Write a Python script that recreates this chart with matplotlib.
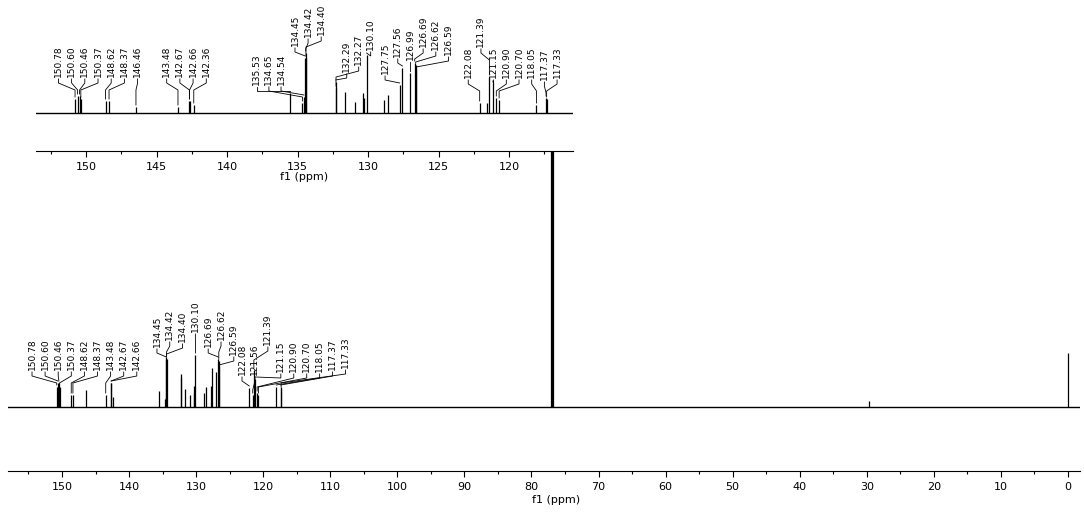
import numpy as np
import matplotlib.pyplot as plt
from matplotlib.ticker import MultipleLocator

plt.rcParams['font.family'] = ['DejaVu Sans']

# peak positions (ppm) shared by the full spectrum and the expanded inset
peak_ppm = [150.78, 150.60, 150.46, 150.37, 148.62, 148.37, 146.46, 143.48, 142.67, 142.66, 142.36,
            135.53, 134.65, 134.54, 134.45, 134.42, 134.40, 132.29, 132.27, 131.63, 130.92, 130.38,
            130.26, 130.10, 128.87, 128.56, 127.75, 127.56, 126.99, 126.69, 126.62, 126.59,
            122.08, 121.56, 121.39, 121.15, 120.90, 120.70, 118.05, 117.37, 117.33,
            77.16, 77.00, 76.84, 29.70, 0.00]
# peak heights in the full spectrum
main_height = [20, 24, 24, 20, 12, 12, 17, 12, 24, 24, 10,
               16, 8, 10, 48, 50, 48, 33, 30, 18, 12, 21,
               14, 52, 14, 20, 21, 39, 35, 48, 46, 40,
               19, 12, 37, 28, 14, 12, 20, 20, 18,
               600, 600, 600, 6, 54]
# peak heights in the inset (aromatic region expanded)
inset_height = [14, 17, 17, 14, 12, 12, 6, 6, 12, 12, 8,
                20, 10, 16, 55, 60, 55, 31, 25, 21, 11, 20,
                15, 58, 13, 18, 28, 45, 40, 50, 48, 44,
                10, 10, 36, 30, 15, 13, 8, 15, 14,
                0, 0, 0, 0, 0]

main_labels = [150.78, 150.60, 150.46, 150.37, 148.62, 148.37, 143.48, 142.67, 142.66,
               134.45, 134.42, 134.40, 130.10, 126.69, 126.62, 126.59,
               122.08, 121.56, 121.39, 121.15, 120.90, 120.70, 118.05, 117.37, 117.33]
inset_labels = [150.78, 150.60, 150.46, 150.37, 148.62, 148.37, 146.46,
                143.48, 142.67, 142.66, 142.36,
                135.53, 134.65, 134.54,
                134.45, 134.42, 134.40,
                132.29, 132.27, 130.10,
                127.75, 127.56, 126.99, 126.69, 126.62, 126.59,
                122.08, 121.39, 121.15, 120.90, 120.70, 118.05, 117.37, 117.33]

# label layout: (first label x in ppm, step in ppm, text bottoms above baseline, elbow drop)
main_groups = [
    (154.47, 1.953, [37] * 9, 7),
    (135.84, 1.91, [60, 67, 65, 75, 60, 67, 52], 6),
    (123.16, 1.93, [32, 32, 62, 35, 35, 35, 35, 37, 39], 9),
]
inset_groups = [
    (151.96, 0.936, [36] * 7, 7),
    (144.28, 0.936, [36] * 4, 7),
    (137.89, 0.86, [28] * 3, 6),
    (135.18, 0.93, [67, 76, 78], 6),
    (131.51, 0.85, [41, 48, 63], 6),
    (128.79, 0.9, [39, 56, 53, 66, 63, 58], 6),
    (122.89, 0.9, [35, 66, 35, 35, 35, 35, 33, 35], 7),
]


def draw_labels(ax, labels, groups, heights):
    ppm = np.array(peak_ppm)
    i = 0
    for start, step, bottoms, drop in groups:
        for k, yb in enumerate(bottoms):
            value = labels[i]
            i += 1
            lx = start - k * step
            top = heights[int(np.argmin(np.abs(ppm - value)))] + 2
            elbow = max(yb - 6 - drop, top)
            ax.plot([lx, lx, value, value], [yb - 2, yb - 6, elbow, top],
                    color='black', lw=0.6, solid_joinstyle='miter')
            ax.text(lx, yb, f'{value:.2f}', rotation=90, ha='center', va='bottom',
                    fontsize=6.5, color='black')


def style_axis(ax, major, minor):
    for side in ['top', 'left', 'right']:
        ax.spines[side].set_visible(False)
    ax.spines['bottom'].set_linewidth(0.8)
    ax.set_yticks([])
    ax.xaxis.set_major_locator(MultipleLocator(major))
    ax.xaxis.set_minor_locator(MultipleLocator(minor))
    ax.tick_params(axis='x', which='major', direction='out', length=4, width=0.8, pad=4, labelsize=8)
    ax.tick_params(axis='x', which='minor', direction='out', length=2.5, width=0.8)


fig = plt.figure(figsize=(10.84, 5.13), dpi=100)

# full spectrum
ax = fig.add_axes([8 / 1084, 42 / 513, 1072 / 1084, 471 / 513])
ax.axhline(0, color='black', lw=1.0)
ax.vlines(peak_ppm, 0, main_height, color='black', lw=0.9)
ax.set_xlim(158.05, -1.79)
ax.set_ylim(-64, 407)
style_axis(ax, 10, 5)
ax.set_xlabel('f1 (ppm)', fontsize=8)
ax.xaxis.set_label_coords(0.511, -0.05)
draw_labels(ax, main_labels, main_groups, main_height)

# expanded aromatic region
ins = fig.add_axes([36 / 1084, 362 / 513, 537 / 1084, 151 / 513])
ins.set_facecolor('white')
ins.axhline(0, color='black', lw=1.0)
ins.vlines(peak_ppm, 0, inset_height, color='black', lw=0.9)
ins.set_xlim(153.55, 115.46)
ins.set_ylim(-38, 113)
style_axis(ins, 5, 2.5)
ins.set_xlabel('f1 (ppm)', fontsize=8, labelpad=0)
draw_labels(ins, inset_labels, inset_groups, inset_height)

fig.savefig('out.png', dpi=100)
